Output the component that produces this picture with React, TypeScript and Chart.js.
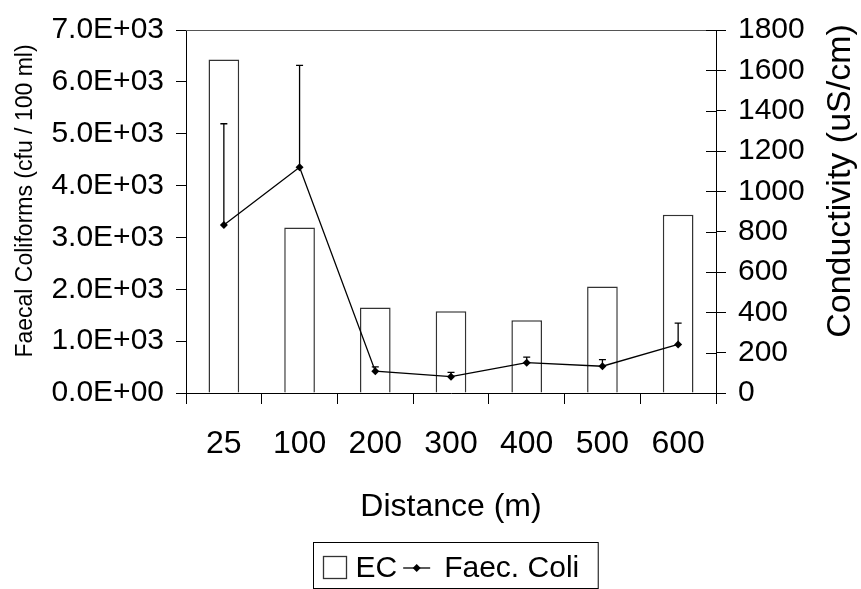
import { useEffect, useRef } from 'react';
import { Chart, registerables } from 'chart.js';

Chart.register(...registerables);

// Sampling distances along the transect
const distances = ['25', '100', '200', '300', '400', '500', '600'];
// Electrical conductivity (uS/cm), right axis
const conductivity = [1654, 821, 424, 405, 361, 528, 884];
// Faecal coliforms (cfu / 100 ml), left axis
const faecalColi = [3240, 4354, 421, 314, 585, 516, 937];
// Upper error (cfu / 100 ml)
const faecalColiError = [1952, 1964, 81, 82, 106, 126, 409];

const coliMax = 7000;
const coliStep = 1000;
const ecMax = 1800;
const ecStep = 200;

const FONT = '"Liberation Sans", Arial, Helvetica, sans-serif';

function toExp(v: number): string {
  if (v === 0) return '0.0E+00';
  const e = Math.floor(Math.log10(Math.abs(v)));
  const m = v / Math.pow(10, e);
  return `${m.toFixed(1)}E+${String(e).padStart(2, '0')}`;
}

const decorations = {
  id: 'decorations',
  beforeDatasetDraw(chart: any, args: any) {
    if (chart.data.datasets[args.index].type !== 'line') return;
    const ctx = chart.ctx;
    const yS = chart.scales.y;
    const meta = chart.getDatasetMeta(args.index);
    ctx.save();
    ctx.strokeStyle = '#000';
    ctx.lineWidth = 1.3;
    meta.data.forEach((pt: any, i: number) => {
      const x = pt.x;
      const y0 = yS.getPixelForValue(faecalColi[i]);
      const y1 = yS.getPixelForValue(faecalColi[i] + faecalColiError[i]);
      ctx.beginPath();
      ctx.moveTo(x, y0);
      ctx.lineTo(x, y1);
      ctx.moveTo(x - 3.5, y1);
      ctx.lineTo(x + 3.5, y1);
      ctx.stroke();
    });
    ctx.restore();
  },
  afterDraw(chart: any) {
    const ctx = chart.ctx;
    const { left, right, top } = chart.chartArea;
    const y2 = chart.scales.y2;
    ctx.save();

    // top frame line
    ctx.strokeStyle = '#555';
    ctx.lineWidth = 1;
    ctx.beginPath();
    ctx.moveTo(left, Math.round(top) + 0.5);
    ctx.lineTo(right, Math.round(top) + 0.5);
    ctx.stroke();

    // inner half of the right axis tick marks
    ctx.strokeStyle = '#000';
    ctx.beginPath();
    y2.ticks.forEach((_t: any, i: number) => {
      const y = Math.round(y2.getPixelForTick(i)) + 0.5;
      ctx.moveTo(right - 10, y);
      ctx.lineTo(right, y);
    });
    ctx.stroke();

    // axis titles
    ctx.fillStyle = '#000';
    ctx.textAlign = 'center';
    ctx.textBaseline = 'middle';

    ctx.font = `32px ${FONT}`;
    ctx.fillText('Distance (m)', (left + right) / 2, 507);

    ctx.save();
    ctx.translate(26, 201);
    ctx.rotate(-Math.PI / 2);
    ctx.font = `23px ${FONT}`;
    ctx.fillText('Faecal Coliforms (cfu / 100 ml)', 0, 0);
    ctx.restore();

    ctx.save();
    ctx.translate(841, 181);
    ctx.rotate(-Math.PI / 2);
    ctx.font = `34px ${FONT}`;
    ctx.fillText('Conductivity (uS/cm)', 0, 0);
    ctx.restore();

    // legend
    ctx.font = `30px ${FONT}`;
    const ds = chart.data.datasets;
    const padL = 9, padR = 19, symW = [23, 27], gapSym = [10, 14], gapItem = 6;
    const widths = ds.map((d: any) => ctx.measureText(d.label).width);
    let total = padL + padR;
    ds.forEach((d: any, i: number) => {
      const sw = d.type === 'bar' ? symW[0] : symW[1];
      const gs = d.type === 'bar' ? gapSym[0] : gapSym[1];
      total += sw + gs + widths[i] + (i > 0 ? gapItem : 0);
    });
    const cx = (left + right) / 2 + 4.5;
    const boxL = Math.round(cx - total / 2) + 0.5;
    const boxT = 542.5;
    const boxB = 588.5;
    const cy = 568;
    ctx.strokeStyle = '#000';
    ctx.lineWidth = 1;
    ctx.strokeRect(boxL, boxT, total, boxB - boxT);

    let x = boxL + padL;
    ds.forEach((d: any, i: number) => {
      if (i > 0) x += gapItem;
      if (d.type === 'bar') {
        ctx.fillStyle = '#fff';
        ctx.fillRect(x, cy - 11, 23, 22);
        ctx.strokeStyle = '#333';
        ctx.lineWidth = 1.3;
        ctx.strokeRect(Math.round(x) + 0.5, cy - 11.5, 23, 22);
        x += symW[0] + gapSym[0];
      } else {
        ctx.strokeStyle = '#000';
        ctx.lineWidth = 1.3;
        ctx.beginPath();
        ctx.moveTo(x, cy);
        ctx.lineTo(x + symW[1], cy);
        ctx.stroke();
        const mx = x + symW[1] / 2;
        ctx.fillStyle = '#000';
        ctx.beginPath();
        ctx.moveTo(mx, cy - 4);
        ctx.lineTo(mx + 4, cy);
        ctx.lineTo(mx, cy + 4);
        ctx.lineTo(mx - 4, cy);
        ctx.closePath();
        ctx.fill();
        x += symW[1] + gapSym[1];
      }
      ctx.fillStyle = '#000';
      ctx.textAlign = 'left';
      ctx.fillText(d.label, x, cy + 1);
      x += widths[i];
    });

    ctx.restore();
  },
};

export default function App() {
  const canvasRef = useRef<HTMLCanvasElement | null>(null);

  useEffect(() => {
    if (!canvasRef.current) return;
    const chart = new Chart(canvasRef.current, {
      type: 'bar',
      data: {
        labels: distances,
        datasets: [
          {
            type: 'bar',
            label: 'EC',
            data: conductivity,
            yAxisID: 'y2',
            backgroundColor: '#ffffff',
            borderColor: '#333',
            borderWidth: 1.5,
            categoryPercentage: 1,
            barPercentage: 0.405,
            order: 1,
          },
          {
            type: 'line',
            label: 'Faec. Coli',
            data: faecalColi,
            yAxisID: 'y',
            borderColor: '#000',
            borderWidth: 1.3,
            backgroundColor: '#000',
            pointStyle: 'rectRot',
            pointRadius: 4,
            pointBackgroundColor: '#000',
            pointBorderColor: '#000',
            pointBorderWidth: 0,
            tension: 0,
            fill: false,
            order: 0,
          },
        ],
      } as any,
      options: {
        responsive: false,
        devicePixelRatio: 1,
        animation: false,
        layout: { padding: { top: 23, left: 0, right: 0, bottom: 0 } },
        plugins: {
          legend: { display: false },
          tooltip: { enabled: false },
          title: { display: false },
        },
        scales: {
          x: {
            type: 'category',
            offset: true,
            grid: {
              display: true,
              offset: true,
              drawOnChartArea: false,
              drawTicks: true,
              tickLength: 11,
              color: '#000',
            },
            border: { display: true, color: '#000', width: 1 },
            ticks: {
              color: '#000',
              font: { family: FONT, size: 32 },
              padding: 21,
              maxRotation: 0,
              autoSkip: false,
            },
            afterFit: (s: any) => {
              s.height = 196;
            },
          },
          y: {
            position: 'left',
            min: 0,
            max: coliMax,
            grid: {
              drawOnChartArea: false,
              drawTicks: true,
              tickLength: 10,
              color: '#000',
            },
            border: { display: true, color: '#000', width: 1 },
            ticks: {
              stepSize: coliStep,
              color: '#000',
              font: { family: FONT, size: 30 },
              padding: 12,
              callback: (v: any) => toExp(Number(v)),
            },
            afterFit: (s: any) => {
              s.width = 186;
            },
          },
          y2: {
            position: 'right',
            min: 0,
            max: ecMax,
            grid: {
              drawOnChartArea: false,
              drawTicks: true,
              tickLength: 10,
              color: '#000',
            },
            border: { display: true, color: '#000', width: 1 },
            ticks: {
              stepSize: ecStep,
              color: '#000',
              font: { family: FONT, size: 30 },
              padding: 12,
              callback: (v: any) => String(Number(v)),
            },
            afterFit: (s: any) => {
              s.width = 145;
            },
          },
        },
      } as any,
      plugins: [decorations],
    });
    return () => chart.destroy();
  }, []);

  return (
    <div style={{ position: 'absolute', left: 0, top: 0, width: 861, height: 589, background: '#fff' }}>
      <canvas ref={canvasRef} width={861} height={589} />
    </div>
  );
}
